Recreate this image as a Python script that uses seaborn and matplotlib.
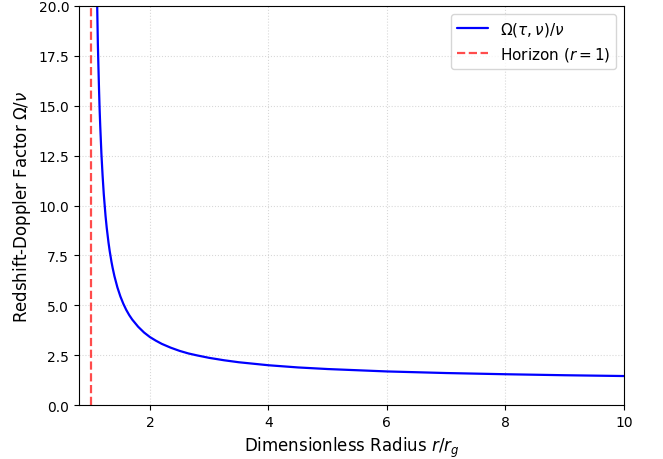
import numpy as np
import pandas as pd
import matplotlib
matplotlib.use("Agg")
import matplotlib.pyplot as plt
import seaborn as sns

# values
radius = [1.08, 1.10, 1.12, 1.13, 1.14, 1.15, 1.16, 1.18, 1.20, 1.22, 1.25, 1.27,
          1.30, 1.32, 1.35, 1.37, 1.40, 1.45, 1.50, 1.55, 1.60, 1.65, 1.70, 1.80,
          1.90, 2.0, 2.1, 2.2, 2.35, 2.5, 2.65, 2.8, 3.0, 3.25, 3.5, 4.0, 4.5,
          5.0, 6.0, 7.0, 8.0, 9.0, 10.0]
factor = [26.5, 21.5, 18.1, 16.9, 15.8, 14.8, 14.0, 12.6, 11.5, 10.57, 9.47, 8.88,
          8.14, 7.72, 7.18, 6.87, 6.46, 5.90, 5.45, 5.08, 4.77, 4.51, 4.29, 3.93,
          3.64, 3.41, 3.23, 3.07, 2.88, 2.72, 2.59, 2.49, 2.37, 2.25, 2.15, 2.0, 1.89,
          1.81, 1.69, 1.61, 1.55, 1.50, 1.46]
horizon_r = 1.0

df = pd.DataFrame({"r": radius, "omega": factor})

sns.set_style("ticks")
plt.rcParams["font.family"] = ["DejaVu Sans"]
plt.rcParams["text.color"] = "black"
plt.rcParams["axes.labelcolor"] = "black"
plt.rcParams["xtick.color"] = "black"
plt.rcParams["ytick.color"] = "black"

fig, ax = plt.subplots(figsize=(6.63, 4.60), dpi=100)
fig.subplots_adjust(left=0.119, right=0.941, top=0.985, bottom=0.117)

sns.lineplot(data=df, x="r", y="omega", ax=ax, color="blue", linewidth=1.6,
             label=r"$\Omega(\tau,\nu)/\nu$")
ax.axvline(horizon_r, color="red", linestyle="--", alpha=0.7, linewidth=1.6,
           label=r"Horizon ($r=1$)")

ax.set_xlim(0.8, 10)
ax.set_ylim(0, 20)
ax.set_xticks([2, 4, 6, 8, 10])
ax.set_yticks(np.arange(0, 20.1, 2.5))
ax.set_xlabel(r"Dimensionless Radius $r/r_g$", fontsize=12)
ax.set_ylabel(r"Redshift-Doppler Factor $\Omega/\nu$", fontsize=12)
ax.tick_params(labelsize=10, color="black")
for s in ax.spines.values():
    s.set_color("black")
ax.grid(True, linestyle=":", color="grey", alpha=0.3)
ax.legend(loc="upper right", fontsize=11)

fig.savefig("out.png", dpi=100)
